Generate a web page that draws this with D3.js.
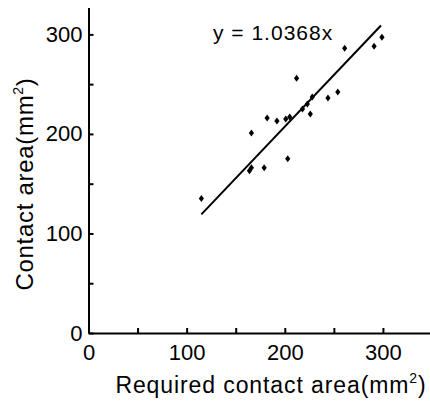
<!DOCTYPE html>
<html>
<head>
    <meta charset="utf-8">
    <title>Contact area vs required contact area</title>
    <style>
        body {
            margin: 0;
            background: #fff;
        }
        svg text {
            font-family: "Liberation Sans", Arial, sans-serif;
            fill: #000;
        }
    </style>
    <script src="https://d3js.org/d3.v7.min.js"></script>
</head>
<body>
<div id="chart"></div>
<script>
    // measured points (required area, contact area), mm^2
    var reqArea = [115, 164, 166, 179, 203, 166, 182, 192, 201, 205, 212, 218, 223, 226, 228, 244, 254, 261, 291, 299];
    var contactArea = [135, 163, 166, 166, 175, 201, 216, 213, 215, 217, 256, 225, 230, 220, 237, 236, 242, 286, 288, 297];

    // fitted line y = 1.0368x over the data range
    var slope = 1.0368;
    var fitX = [115, 298];

    var xTicks = [0, 50, 100, 150, 200, 250, 300, 350];
    var yTicks = [0, 50, 100, 150, 200, 250, 300];

    var width = 430, height = 402;

    var svg = d3.select("#chart").append("svg")
        .attr("width", width)
        .attr("height", height);

    var x = d3.scaleLinear().domain([0, 350]).range([88.5, 432]);
    var y = d3.scaleLinear().domain([0, 327]).range([333, 7.5]);

    // x axis, ticks pointing inward
    svg.append("g")
        .attr("transform", "translate(0," + y(0) + ")")
        .call(d3.axisBottom(x)
            .tickValues(xTicks)
            .tickSizeInner(-5)
            .tickSizeOuter(0)
            .tickPadding(11)
            .tickFormat(function (d) { return d % 100 == 0 ? d : ""; }));

    svg.append("g")
        .attr("transform", "translate(" + x(0) + ",0)")
        .call(d3.axisLeft(y)
            .tickValues(yTicks)
            .tickSizeInner(-5)
            .tickSizeOuter(0)
            .tickPadding(6)
            .tickFormat(function (d) { return d % 100 == 0 ? d : ""; }));

    svg.selectAll(".domain, .tick line")
        .attr("stroke", "#000")
        .attr("stroke-width", 2);
    svg.selectAll(".tick text")
        .attr("font-size", 22)
        .attr("font-family", "Liberation Sans, Arial, sans-serif");

    // fitted line
    svg.append("line")
        .attr("x1", x(fitX[0]))
        .attr("y1", y(fitX[0] * slope))
        .attr("x2", x(fitX[1]))
        .attr("y2", y(fitX[1] * slope))
        .attr("stroke", "#000")
        .attr("stroke-width", 2);

    // diamond markers
    svg.selectAll(".pt")
        .data(reqArea)
        .enter().append("path")
        .attr("class", "pt")
        .attr("d", "M0,-3.5L2.6,0L0,3.5L-2.6,0Z")
        .attr("transform", function (d, i) {
            return "translate(" + x(d) + "," + y(contactArea[i]) + ")";
        })
        .attr("fill", "#000");

    svg.append("text")
        .attr("x", 213)
        .attr("y", 40)
        .attr("font-size", 21)
        .attr("letter-spacing", 1)
        .text("y = 1.0368x");

    // axis titles
    var xt = svg.append("text")
        .attr("x", 271)
        .attr("y", 393)
        .attr("text-anchor", "middle")
        .attr("font-size", 23)
        .attr("letter-spacing", 0.9)
        .text("Required contact area(mm");
    xt.append("tspan").attr("font-size", 14).attr("dy", -10).text("2");
    xt.append("tspan").attr("dy", 10).text(")");

    var yt = svg.append("text")
        .attr("transform", "translate(33,184) rotate(-90)")
        .attr("text-anchor", "middle")
        .attr("font-size", 24)
        .attr("letter-spacing", 0.7)
        .text("Contact area(mm");
    yt.append("tspan").attr("font-size", 14).attr("dy", -10).text("2");
    yt.append("tspan").attr("dy", 10).text(")");
</script>
</body>
</html>
